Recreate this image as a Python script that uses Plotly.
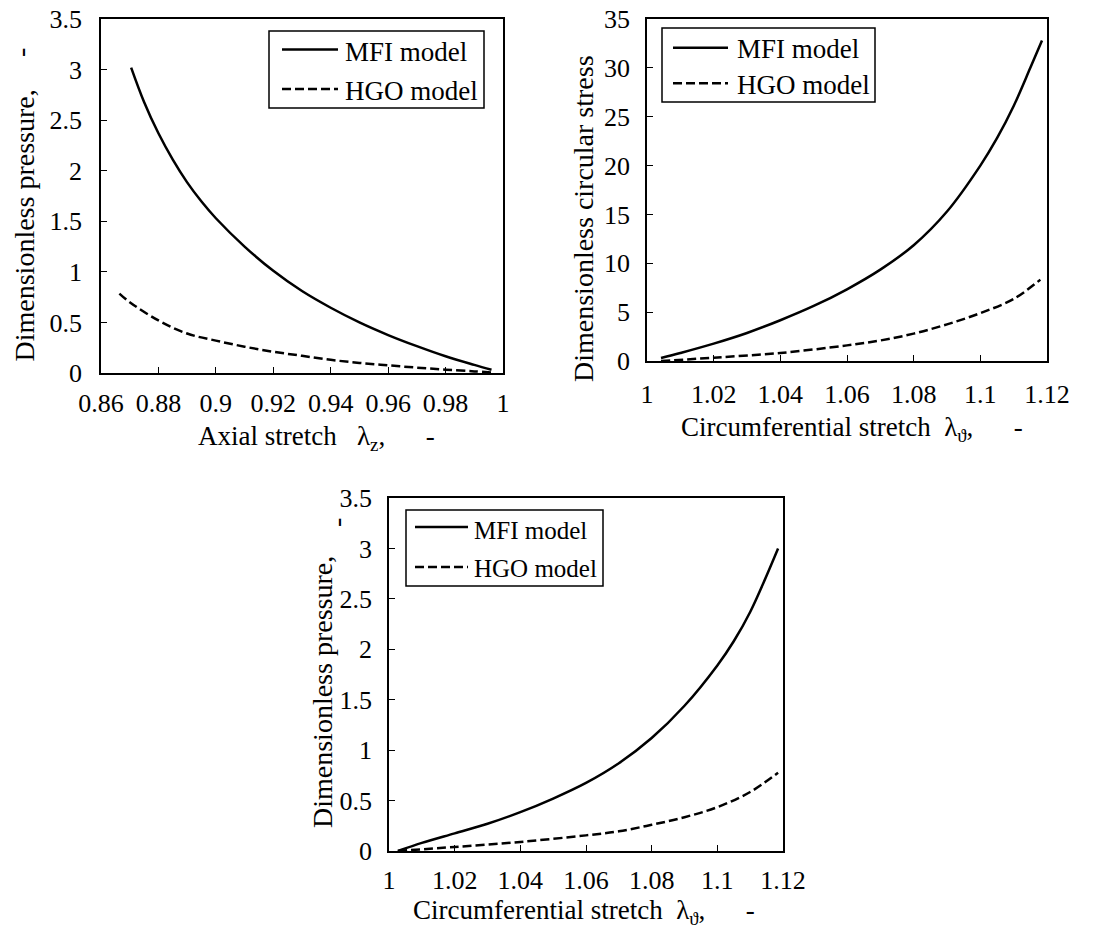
import plotly.graph_objects as go

# top-left: axial stretch vs dimensionless pressure
lz_mfi = [0.8705, 0.875, 0.88, 0.885, 0.89, 0.895, 0.90, 0.91, 0.92, 0.93, 0.94, 0.95, 0.96, 0.97, 0.98, 0.99, 0.996]
p_mfi_a = [3.02, 2.68, 2.37, 2.11, 1.885, 1.695, 1.53, 1.25, 1.01, 0.81, 0.645, 0.50, 0.375, 0.265, 0.165, 0.08, 0.032]
lz_hgo = [0.8664, 0.87, 0.88, 0.89, 0.90, 0.91, 0.92, 0.93, 0.94, 0.95, 0.96, 0.97, 0.98, 0.99, 0.996]
p_hgo_a = [0.785, 0.70, 0.52, 0.39, 0.32, 0.26, 0.21, 0.17, 0.13, 0.10, 0.076, 0.053, 0.033, 0.016, 0.005]

# top-right: circumferential stretch vs circular stress
lt_s = [1.0042, 1.01, 1.02, 1.03, 1.04, 1.05, 1.06, 1.07, 1.08, 1.09, 1.10, 1.105, 1.11, 1.115, 1.1185]
s_mfi = [0.3, 0.82, 1.78, 2.87, 4.17, 5.63, 7.34, 9.35, 11.85, 15.3, 20.0, 22.8, 26.1, 30.0, 32.8]
lt_sh = [1.0042, 1.02, 1.04, 1.06, 1.07, 1.08, 1.09, 1.10, 1.11, 1.118]
s_hgo = [0.0, 0.34, 0.82, 1.6, 2.1, 2.8, 3.75, 4.9, 6.35, 8.33]

# bottom: circumferential stretch vs pressure
lt_p = [1.0027, 1.01, 1.02, 1.03, 1.04, 1.05, 1.06, 1.07, 1.08, 1.09, 1.10, 1.105, 1.11, 1.1185]
p_mfi_c = [0.0, 0.08, 0.175, 0.27, 0.385, 0.52, 0.675, 0.87, 1.12, 1.44, 1.84, 2.08, 2.37, 3.00]
lt_ph = [1.0027, 1.02, 1.04, 1.06, 1.07, 1.08, 1.09, 1.10, 1.11, 1.1185]
p_hgo_c = [0.0, 0.04, 0.09, 0.155, 0.195, 0.26, 0.335, 0.435, 0.585, 0.776]

series_names = ["MFI model", "HGO model"]

W, H = 1113, 937
FONT = "Liberation Serif"
solid = dict(color="black", width=2.5)
dashed = dict(color="black", width=2.5, dash="9px,4px")

fig = go.Figure()
panels = [
    (lz_mfi, p_mfi_a, lz_hgo, p_hgo_a, "x", "y"),
    (lt_s, s_mfi, lt_sh, s_hgo, "x2", "y2"),
    (lt_p, p_mfi_c, lt_ph, p_hgo_c, "x3", "y3"),
]
for xm, ym, xh, yh, xa, ya in panels:
    fig.add_trace(go.Scatter(x=xm, y=ym, mode="lines", line=solid, name=series_names[0],
                             xaxis=xa, yaxis=ya, line_shape="spline", showlegend=False))
    fig.add_trace(go.Scatter(x=xh, y=yh, mode="lines", line=dashed, name=series_names[1],
                             xaxis=xa, yaxis=ya, line_shape="spline", showlegend=False))

ax = dict(showline=True, mirror=True, linecolor="black", linewidth=1.5, showgrid=False,
          zeroline=False, ticks="inside", tickcolor="black", ticklen=6, tickwidth=1.2,
          automargin=False, tickfont=dict(family=FONT, size=26, color="black"))

def px_x(a, b):
    return [a / W, b / W]

def px_y(top, bottom):
    return [1 - bottom / H, 1 - top / H]

fig.update_layout(
    width=W, height=H, margin=dict(l=0, r=0, t=0, b=0),
    paper_bgcolor="white", plot_bgcolor="white",
    font=dict(family=FONT, size=26, color="black"),
    xaxis=dict(ax, domain=px_x(101, 503), range=[0.86, 1.0], dtick=0.02, anchor="y", ticklabelstandoff=6),
    yaxis=dict(ax, domain=px_y(19, 373), range=[0, 3.5], dtick=0.5, anchor="x", ticklabelstandoff=12),
    xaxis2=dict(ax, domain=px_x(647, 1047), range=[1.0, 1.12], dtick=0.02, anchor="y2", ticklabelstandoff=9),
    yaxis2=dict(ax, domain=px_y(19, 361), range=[0, 35], dtick=5, anchor="x2", ticklabelstandoff=10),
    xaxis3=dict(ax, domain=px_x(389, 783), range=[1.0, 1.12], dtick=0.02, anchor="y3", ticklabelstandoff=5),
    yaxis3=dict(ax, domain=px_y(498, 851), range=[0, 3.5], dtick=0.5, anchor="x3", ticklabelstandoff=10),
)

# legend boxes drawn by hand: box, line samples, labels (pixel positions)
legends = [
    ((269, 31, 484, 108), (282, 338), (49.5, 89), 343, (52, 91), 27),
    ((662, 28, 875, 102), (673, 728), (47.7, 83.3), 735, (49, 85), 27),
    ((406, 510, 603, 586), (415, 468), (527, 567), 472, (530, 568), 25),
]
for (bx0, by0, bx1, by1), (lx0, lx1), (ly_s, ly_d), tx, (ty_s, ty_d), fs in legends:
    fig.add_shape(type="rect", xref="paper", yref="paper", x0=bx0 / W, x1=bx1 / W,
                  y0=1 - by1 / H, y1=1 - by0 / H, line=dict(color="black", width=1.5),
                  fillcolor="white", layer="above")
    for ly, lst in ((ly_s, solid), (ly_d, dashed)):
        fig.add_shape(type="line", xref="paper", yref="paper", x0=lx0 / W, x1=lx1 / W,
                      y0=1 - ly / H, y1=1 - ly / H, line=lst, layer="above")
    for ty, name in ((ty_s, series_names[0]), (ty_d, series_names[1])):
        fig.add_annotation(text=name, x=tx / W, y=1 - ty / H, xref="paper", yref="paper",
                           showarrow=False, xanchor="left", yanchor="middle",
                           font=dict(family=FONT, size=fs, color="black"))

nb = "\u00a0"
titles = [
    ("Axial stretch" + nb * 3 + "λ<sub>z</sub>," + nb * 6 + "-", 316, 438, 0, 27),
    ("Circumferential stretch" + nb * 2 + "λ<sub>ϑ</sub>," + nb * 6 + "-", 852, 429, 0, 27),
    ("Circumferential stretch" + nb * 2 + "λ<sub>ϑ</sub>," + nb * 6 + "-", 584, 912, 0, 27),
    ("Dimensionless pressure,", 23.5, 226, -90, 28),
    ("-", 21, 53, -90, 28),
    ("Dimensionless circular stress", 583, 219, -90, 28),
    ("Dimensionless pressure,", 322, 692, -90, 28),
    ("-", 336, 523, -90, 28),
]
for txt, xp, yp, rot, fs in titles:
    fig.add_annotation(text=txt, x=xp / W, y=1 - yp / H, xref="paper", yref="paper",
                       showarrow=False, textangle=rot, xanchor="center", yanchor="middle",
                       font=dict(family=FONT, size=fs, color="black"))

fig.write_html("out.html", config={"displayModeBar": False},
               post_script="document.body.style.margin='0';")
